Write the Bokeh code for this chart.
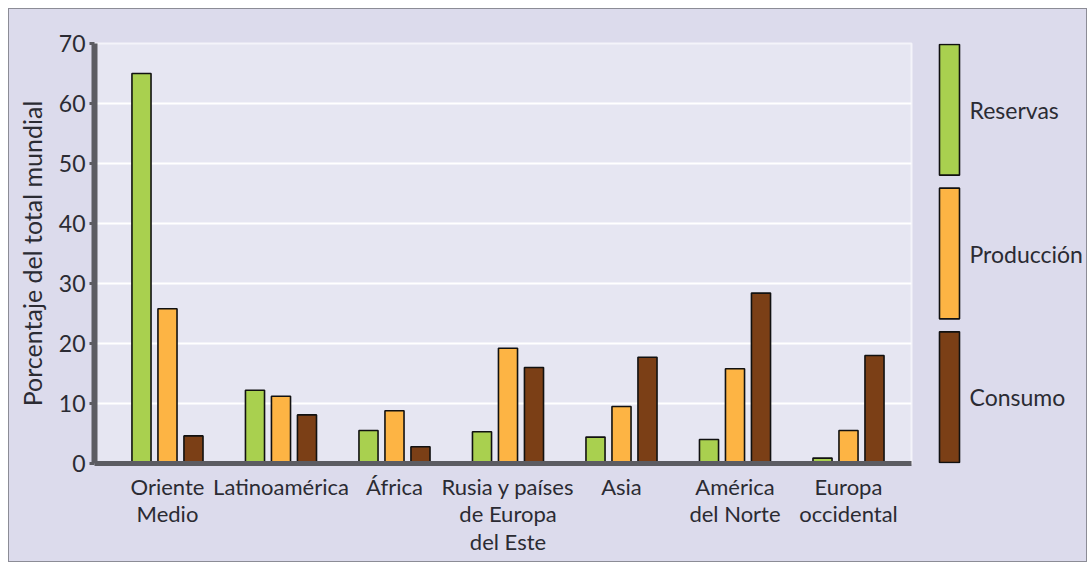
from bokeh.plotting import figure
from bokeh.layouts import row
from bokeh.models import ColumnDataSource, FixedTicker, Range1d
from bokeh.transform import dodge
from bokeh.core.properties import value
from bokeh.embed import file_html
from bokeh.resources import INLINE

regions = ["Oriente\nMedio", "Latinoamérica", "África", "Rusia y países\nde Europa\ndel Este",
           "Asia", "América\ndel Norte", "Europa\noccidental"]
reservas = [65.0, 12.2, 5.5, 5.3, 4.4, 4.0, 0.9]
produccion = [25.8, 11.2, 8.8, 19.2, 9.5, 15.8, 5.5]
consumo = [4.6, 8.1, 2.8, 16.0, 17.7, 28.4, 18.0]
series_names = ["Reservas", "Producción", "Consumo"]
colors = ["#a9d04f", "#fdb444", "#7b3f16"]
y_ticks = [0, 10, 20, 30, 40, 50, 60, 70]

idx = list(range(len(regions)))
src = ColumnDataSource(dict(idx=idx, r=reservas, p=produccion, c=consumo))

FONT = "Lato"
TXT = "#2b2b33"
BORDER = "#dcdbec"
H = 552

p = figure(width=910, height=H, x_range=(-0.643, 6.555), y_range=(0, 70),
           output_backend="svg", toolbar_location=None,
           min_border_left=85, min_border_top=34, min_border_bottom=98, min_border_right=8)
p.background_fill_color = "#e6e6f2"
p.border_fill_color = BORDER
p.outline_line_color = "#f4f4fa"
p.outline_line_width = 2

bw = 0.168
off = 0.229
for col, o, colr in zip(["r", "p", "c"], [-off, 0, off], colors):
    p.vbar(x=dodge("idx", o, range=p.x_range), top=col, width=bw, source=src,
           fill_color=colr, line_color="#111111", line_width=1.6)

# grid
p.xgrid.grid_line_color = None
p.ygrid.grid_line_color = "#ffffff"
p.ygrid.grid_line_width = 2
p.ygrid.ticker = FixedTicker(ticks=y_ticks)

# y axis
ya = p.yaxis[0]
ya.ticker = FixedTicker(ticks=y_ticks)
ya.axis_line_color = "#5c5c62"
ya.axis_line_width = 6
ya.major_tick_line_color = "#5c5c62"
ya.major_tick_line_width = 3
ya.major_tick_out = 5
ya.major_tick_in = 0
ya.minor_tick_line_color = None
ya.major_label_text_font = FONT
ya.major_label_text_font_size = "23px"
ya.major_label_text_color = TXT
ya.major_label_standoff = 4
ya.axis_label = "Porcentaje del total mundial"
ya.axis_label_text_font = FONT
ya.axis_label_text_font_size = "25px"
ya.axis_label_text_font_style = "normal"
ya.axis_label_text_color = TXT
ya.axis_label_standoff = 9

# x axis
xa = p.xaxis[0]
xa.ticker = FixedTicker(ticks=idx)
xa.major_label_overrides = {i: lab for i, lab in zip(idx, regions)}
xa.axis_line_color = "#5c5c62"
xa.axis_line_width = 5
xa.major_tick_line_color = None
xa.minor_tick_line_color = None
xa.major_label_text_font = FONT
xa.major_label_text_font_size = "22px"
xa.major_label_text_line_height = 1.03
xa.major_label_text_color = TXT
xa.major_label_standoff = 3

# legend panel (separate figure on the right; its frame aligns with the main frame)
W2 = 167
q = figure(width=W2, height=H, x_range=Range1d(0, W2), y_range=Range1d(462, 42),
           output_backend="svg", toolbar_location=None, x_axis_type=None, y_axis_type=None,
           min_border=0)
q.background_fill_color = BORDER
q.border_fill_color = BORDER
q.outline_line_color = None
q.grid.visible = False

top0, bot_end, gap = 43, 461, 13
bh = (bot_end - top0 - gap * (len(series_names) - 1)) / len(series_names)
tops = [top0 + k * (bh + gap) for k in range(len(series_names))]
bots = [t + bh for t in tops]
mids = [(t + b) / 2 for t, b in zip(tops, bots)]
q.quad(left=20, right=40, top=tops, bottom=bots, fill_color=colors,
       line_color="#111111", line_width=1.6)
q.text(x=50, y=mids, text=series_names, text_font=value(FONT), text_font_size="23px",
       text_color=TXT, text_baseline="middle", text_align="left")

layout = row(p, q, margin=(8, 0, 0, 8),
             styles={"border": "1px solid #8c8c96", "background-color": BORDER})

open("out.html", "w").write(file_html(layout, INLINE))
